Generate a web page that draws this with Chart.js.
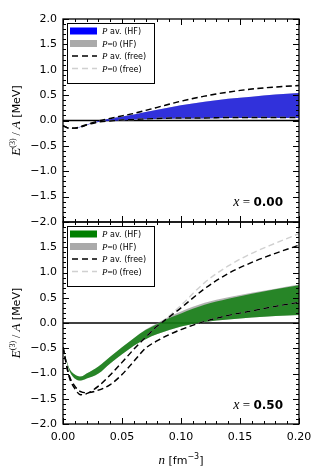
<!DOCTYPE html>
<html>
<head>
<meta charset="utf-8">
<script src="https://cdn.jsdelivr.net/npm/chart.js@4.4.0/dist/chart.umd.min.js"></script>
<style>
  body { margin: 0; background: #fff; }
  #wrap { position: relative; width: 315px; height: 473px; }
  canvas { position: absolute; left: 0; }
</style>
</head>
<body>
<div id="wrap">
  <canvas id="topChart" width="315" height="230" style="top:0"></canvas>
  <canvas id="botChart" width="315" height="261" style="top:212px"></canvas>
</div>
<script>
// densities n [fm^-3]
const nTop = [0, 0.005, 0.01, 0.015, 0.02, 0.03, 0.04, 0.05, 0.06, 0.08, 0.10, 0.12, 0.14, 0.16, 0.18, 0.20];
const nBot = [0, 0.005, 0.01, 0.015, 0.02, 0.03, 0.04, 0.05, 0.06, 0.07, 0.08, 0.09, 0.10, 0.12, 0.14, 0.16, 0.18, 0.20];

// x = 0.00 (neutron matter): P av. and P=0 coincide
const pnmHfUpper   = [-0.10, -0.15, -0.15, -0.12, -0.08, -0.01, 0.04, 0.08, 0.12, 0.21, 0.30, 0.37, 0.43, 0.47, 0.51, 0.54];
const pnmHfLower   = [-0.10, -0.15, -0.15, -0.13, -0.09, -0.03, -0.01, 0.00, 0.02, 0.03, 0.04, 0.04, 0.05, 0.05, 0.05, 0.05];
const pnmFreeUpper = [-0.10, -0.15, -0.15, -0.12, -0.08, -0.01, 0.04, 0.09, 0.14, 0.26, 0.38, 0.48, 0.56, 0.62, 0.66, 0.69];
const pnmFreeLower = [-0.10, -0.15, -0.15, -0.13, -0.09, -0.03, -0.01, 0.01, 0.02, 0.04, 0.05, 0.05, 0.06, 0.06, 0.06, 0.06];

// x = 0.50 (symmetric matter)
const snmHfUpper     = [-0.48, -0.88, -1.02, -1.06, -1.00, -0.86, -0.67, -0.48, -0.30, -0.14, -0.02, 0.10, 0.19, 0.36, 0.48, 0.58, 0.67, 0.75];
const snmHfLower     = [-0.48, -0.92, -1.10, -1.14, -1.10, -1.00, -0.80, -0.62, -0.45, -0.32, -0.22, -0.14, -0.07, 0.02, 0.07, 0.11, 0.14, 0.16];
const snmHfP0Upper   = [-0.48, -0.88, -1.02, -1.06, -1.00, -0.86, -0.67, -0.48, -0.30, -0.13, 0.00, 0.13, 0.23, 0.40, 0.51, 0.60, 0.68, 0.76];
const snmHfP0Lower   = snmHfLower;
const snmFreeUpper   = [-0.48, -1.05, -1.30, -1.42, -1.40, -1.25, -1.03, -0.78, -0.52, -0.28, -0.06, 0.12, 0.30, 0.68, 0.98, 1.20, 1.38, 1.54];
const snmFreeLower   = [-0.48, -1.02, -1.25, -1.36, -1.38, -1.33, -1.22, -1.02, -0.76, -0.50, -0.35, -0.23, -0.13, 0.03, 0.15, 0.24, 0.33, 0.41];
const snmFreeP0Upper = [-0.48, -1.05, -1.30, -1.42, -1.40, -1.25, -1.03, -0.78, -0.52, -0.28, -0.06, 0.14, 0.35, 0.80, 1.13, 1.38, 1.58, 1.77];
const snmFreeP0Lower = snmFreeLower;

const yTicks = [-2, -1.5, -1, -0.5, 0, 0.5, 1, 1.5, 2];
const xTicks = [0, 0.05, 0.10, 0.15, 0.20];

const SERIF = '"Liberation Serif", "DejaVu Serif", serif';
const SANS = '"DejaVu Sans", sans-serif';

function pts(xs, ys) { return xs.map((x, i) => ({ x: x, y: ys[i] })); }

function band(xs, up, lo, color, order) {
  return [
    { data: pts(xs, up), borderWidth: 0, pointRadius: 0, fill: false, order: order, cubicInterpolationMode: 'monotone' },
    { data: pts(xs, lo), borderWidth: 0, pointRadius: 0, fill: '-1', backgroundColor: color, order: order, cubicInterpolationMode: 'monotone' }
  ];
}
function dashed(xs, ys, color, order) {
  return { data: pts(xs, ys), borderColor: color, borderWidth: 1.4, borderDash: [6, 3.5], pointRadius: 0, fill: false, order: order, cubicInterpolationMode: 'monotone' };
}

// draw a row of text pieces with different fonts
function drawRuns(ctx, runs, x, y, align) {
  let w = 0;
  runs.forEach(r => { ctx.font = r.f; w += ctx.measureText(r.t).width; });
  let cx = align === 'center' ? x - w / 2 : (align === 'right' ? x - w : x);
  ctx.textBaseline = 'alphabetic';
  ctx.textAlign = 'left';
  runs.forEach(r => {
    ctx.font = r.f;
    ctx.fillText(r.t, cx, y + (r.dy || 0));
    cx += ctx.measureText(r.t).width;
  });
}

const framePlugin = {
  id: 'frame',
  beforeDatasetsDraw(chart) {
    const { ctx, chartArea: a, scales } = chart;
    const y0 = scales.y.getPixelForValue(0);
    ctx.save();
    ctx.strokeStyle = '#000';
    ctx.lineWidth = 1.5;
    ctx.beginPath();
    ctx.moveTo(a.left, y0);
    ctx.lineTo(a.right, y0);
    ctx.stroke();
    ctx.restore();
  },
  afterDraw(chart, args, opts) {
    const { ctx, chartArea: a, scales } = chart;
    ctx.save();
    ctx.strokeStyle = '#000';
    ctx.fillStyle = '#000';
    ctx.lineWidth = 1;
    // inward ticks
    ctx.beginPath();
    for (let k = -20; k <= 20; k++) {
      const py = Math.round(scales.y.getPixelForValue(k / 10)) + 0.5;
      const len = k % 5 === 0 ? 6 : 3;
      ctx.moveTo(a.left, py); ctx.lineTo(a.left + len, py);
      ctx.moveTo(a.right, py); ctx.lineTo(a.right - len, py);
    }
    for (let k = 0; k <= 20; k++) {
      const px = Math.round(scales.x.getPixelForValue(k / 100)) + 0.5;
      const len = k % 5 === 0 ? 6 : 3;
      ctx.moveTo(px, a.top); ctx.lineTo(px, a.top + len);
      ctx.moveTo(px, a.bottom); ctx.lineTo(px, a.bottom - len);
    }
    ctx.stroke();
    // frame
    ctx.lineWidth = 1.3;
    ctx.strokeRect(a.left, a.top, a.right - a.left, a.bottom - a.top);

    // legend
    const lx = a.left + 4, ly = a.top + 4, lw = 87, lh = 60;
    ctx.fillStyle = '#fff';
    ctx.fillRect(lx, ly, lw, lh);
    ctx.lineWidth = 1;
    ctx.strokeStyle = '#000';
    ctx.strokeRect(lx + 0.5, ly + 0.5, lw, lh);
    const rows = [ly + 8, ly + 20.5, ly + 33, ly + 45.5];
    ctx.fillStyle = opts.swatch;
    ctx.fillRect(lx + 3, rows[0] - 3.5, 27, 7);
    ctx.fillStyle = '#aaaaaa';
    ctx.fillRect(lx + 3, rows[1] - 3.5, 27, 7);
    ctx.lineWidth = 1.4;
    ctx.setLineDash([6, 4]);
    ctx.strokeStyle = '#000';
    ctx.beginPath(); ctx.moveTo(lx + 5, rows[2]); ctx.lineTo(lx + 30, rows[2]); ctx.stroke();
    ctx.strokeStyle = '#d0d0d0';
    ctx.beginPath(); ctx.moveTo(lx + 5, rows[3]); ctx.lineTo(lx + 30, rows[3]); ctx.stroke();
    ctx.setLineDash([]);
    ctx.fillStyle = '#000';
    const tx = lx + 35;
    drawRuns(ctx, [{ t: 'P', f: 'italic 9px ' + SERIF }, { t: ' av. (HF)', f: '8px ' + SANS }], tx, rows[0] + 3, 'left');
    drawRuns(ctx, [{ t: 'P', f: 'italic 9px ' + SERIF }, { t: '=0', f: '9px ' + SERIF }, { t: ' (HF)', f: '8px ' + SANS }], tx, rows[1] + 3, 'left');
    drawRuns(ctx, [{ t: 'P', f: 'italic 9px ' + SERIF }, { t: ' av. (free)', f: '8px ' + SANS }], tx, rows[2] + 3, 'left');
    drawRuns(ctx, [{ t: 'P', f: 'italic 9px ' + SERIF }, { t: '=0', f: '9px ' + SERIF }, { t: ' (free)', f: '8px ' + SANS }], tx, rows[3] + 3, 'left');

    // panel label
    drawRuns(ctx, [{ t: 'x', f: 'italic 14px ' + SERIF }, { t: ' = ', f: '13px ' + SERIF }, { t: opts.label, f: 'bold 12px ' + SANS }],
      a.right - 16, a.bottom - opts.labelLift, 'right');

    // y title
    ctx.save();
    ctx.translate(16, (a.top + a.bottom) / 2);
    ctx.rotate(-Math.PI / 2);
    drawRuns(ctx, [
      { t: 'E', f: 'italic 13px ' + SERIF },
      { t: '(3)', f: '8px ' + SERIF, dy: -5 },
      { t: ' / ', f: '12px ' + SERIF },
      { t: 'A', f: 'italic 13px ' + SERIF },
      { t: ' [MeV]', f: '11px ' + SANS }
    ], 0, 4, 'center');
    ctx.restore();

    // x title
    if (opts.xTitle) {
      drawRuns(ctx, [
        { t: 'n', f: 'italic 13px ' + SERIF },
        { t: ' [fm', f: '11px ' + SANS },
        { t: '\u22123', f: '8px ' + SANS, dy: -5 },
        { t: ']', f: '11px ' + SANS }
      ], (a.left + a.right) / 2, chart.height - 9, 'center');
    }
    ctx.restore();
  }
};

function fmtY(v) { return v.toFixed(1).replace('-', '\u2212'); }

function makeChart(id, datasets, cfg) {
  return new Chart(document.getElementById(id), {
    type: 'line',
    data: { datasets: datasets },
    options: {
      responsive: false,
      animation: false,
      devicePixelRatio: 1,
      layout: { padding: cfg.padding },
      plugins: {
        legend: { display: false },
        tooltip: { enabled: false },
        frame: cfg.frame
      },
      scales: {
        x: {
          type: 'linear',
          min: 0, max: 0.2,
          display: cfg.showX,
          grid: { display: false, drawTicks: false },
          border: { display: false },
          afterBuildTicks: s => { s.ticks = xTicks.map(v => ({ value: v })); },
          afterFit: s => {
            s.height = cfg.showX ? 49 : 0;
            s.paddingLeft = 0; s.paddingRight = 0;
          },
          ticks: {
            padding: 7,
            color: '#000',
            font: { family: 'DejaVu Sans', size: 11 },
            callback: v => v.toFixed(2)
          }
        },
        y: {
          min: -2, max: 2,
          grid: { display: false, drawTicks: false },
          border: { display: false },
          afterBuildTicks: s => { s.ticks = yTicks.map(v => ({ value: v })); },
          afterFit: s => {
            s.width = 63;
            s.paddingTop = 0; s.paddingBottom = 0;
          },
          ticks: {
            padding: 6,
            color: '#000',
            font: { family: 'DejaVu Sans', size: 11 },
            callback: v => (cfg.hideTop && v === 2) ? '' : fmtY(v)
          }
        }
      }
    },
    plugins: [framePlugin]
  });
}

const topSets = [].concat(
  band(nTop, pnmHfUpper, pnmHfLower, 'rgba(128,128,128,0.6)', 10),
  band(nTop, pnmHfUpper, pnmHfLower, 'rgba(0,0,235,0.72)', 8),
  [dashed(nTop, pnmFreeUpper, '#d0d0d0', 6), dashed(nTop, pnmFreeLower, '#d0d0d0', 6),
   dashed(nTop, pnmFreeUpper, '#000', 4), dashed(nTop, pnmFreeLower, '#000', 4)]
);

const botSets = [].concat(
  band(nBot, snmHfP0Upper, snmHfP0Lower, 'rgba(128,128,128,0.6)', 10),
  band(nBot, snmHfUpper, snmHfLower, 'rgba(0,120,0,0.78)', 8),
  [dashed(nBot, snmFreeP0Upper, '#d0d0d0', 6), dashed(nBot, snmFreeP0Lower, '#d0d0d0', 6),
   dashed(nBot, snmFreeUpper, '#000', 4), dashed(nBot, snmFreeLower, '#000', 4)]
);

makeChart('topChart', topSets, {
  padding: { top: 19, right: 16, bottom: 8, left: 0 },
  showX: false,
  hideTop: false,
  frame: { swatch: '#0000ff', label: '0.00', labelLift: 16, xTitle: false }
});

makeChart('botChart', botSets, {
  padding: { top: 10, right: 16, bottom: 0, left: 0 },
  showX: true,
  hideTop: true,
  frame: { swatch: '#008000', label: '0.50', labelLift: 15, xTitle: true }
});
</script>
</body>
</html>
